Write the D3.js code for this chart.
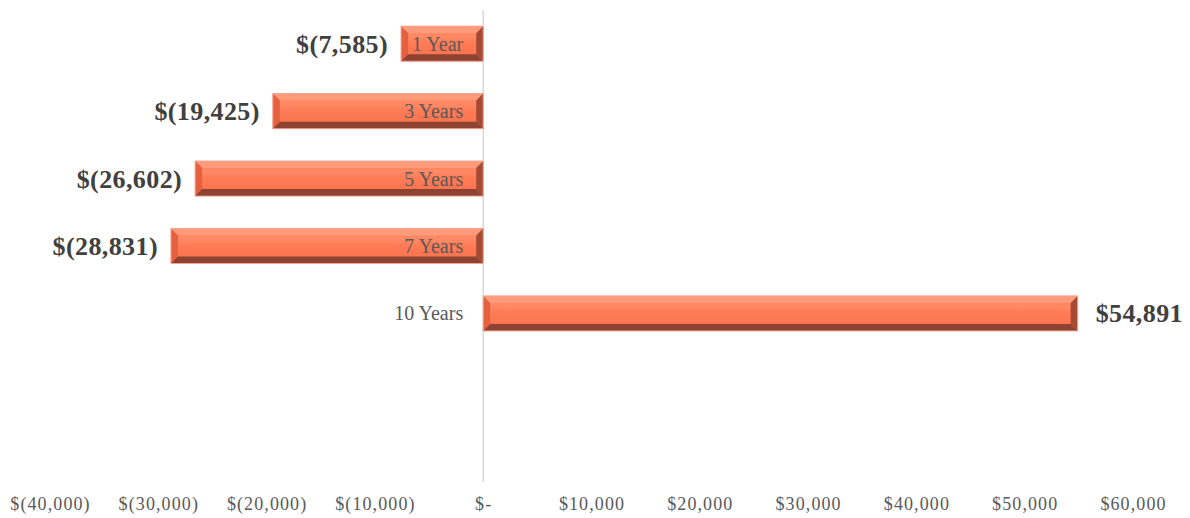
<!DOCTYPE html>
<html>
<head>
<meta charset="utf-8">
<script src="https://cdn.jsdelivr.net/npm/d3@7/dist/d3.min.js"></script>
<style>
  html, body { margin: 0; padding: 0; background: #fff; }
  svg { display: block; }
</style>
</head>
<body>
<svg id="chart" width="1190" height="518"></svg>
<script>
const categories = ["1 Year", "3 Years", "5 Years", "7 Years", "10 Years"];
const values = [-7585, -19425, -26602, -28831, 54891];
const valueLabels = ["$(7,585)", "$(19,425)", "$(26,602)", "$(28,831)", "$54,891"];
const tickValues = [-40000, -30000, -20000, -10000, 0, 10000, 20000, 30000, 40000, 50000, 60000];
const tickLabels = ["$(40,000)", "$(30,000)", "$(20,000)", "$(10,000)", "$-", "$10,000", "$20,000", "$30,000", "$40,000", "$50,000", "$60,000"];

const svg = d3.select("#chart");
const plotTop = 10, plotBottom = 482, slots = 7;
const slotH = (plotBottom - plotTop) / slots;

const x = d3.scaleLinear().domain([-40000, 60000]).range([50, 1133]);
const y = d3.scaleBand().domain(categories)
  .range([plotTop, plotTop + slotH * categories.length])
  .paddingInner(0.48).paddingOuter(0.24);

const defs = svg.append("defs");
const g1 = defs.append("linearGradient").attr("id", "face").attr("x1", 0).attr("y1", 0).attr("x2", 0).attr("y2", 1);
g1.append("stop").attr("offset", "0%").attr("stop-color", "#ff7c57");
g1.append("stop").attr("offset", "30%").attr("stop-color", "#ff8a66");
g1.append("stop").attr("offset", "45%").attr("stop-color", "#ff7d58");
g1.append("stop").attr("offset", "100%").attr("stop-color", "#f86f4b");

// zero line
svg.append("line")
  .attr("x1", x(0)).attr("x2", x(0))
  .attr("y1", plotTop).attr("y2", plotBottom)
  .attr("stroke", "#d9d9d9").attr("stroke-width", 1.5);

const b = 7;
const bars = svg.append("g").selectAll("g").data(categories).enter().append("g");
bars.each(function(c, i) {
  const gg = d3.select(this);
  const x0 = Math.min(x(0), x(values[i])), x1 = Math.max(x(0), x(values[i]));
  const y0 = y(c), y1 = y(c) + y.bandwidth();
  gg.append("rect").attr("x", x0).attr("y", y0).attr("width", x1 - x0).attr("height", y1 - y0)
    .attr("fill", "url(#face)");
  const poly = (pts, col) => gg.append("polygon").attr("points", pts.map(p => p.join(",")).join(" ")).attr("fill", col);
  poly([[x0, y0], [x1, y0], [x1 - b, y0 + b], [x0 + b, y0 + b]], "#ff9a7b");
  poly([[x0, y0], [x0 + b, y0 + b], [x0 + b, y1 - b], [x0, y1]], "#e4603f");
  poly([[x0, y1], [x0 + b, y1 - b], [x1 - b, y1 - b], [x1, y1]], "#8e4232");
  poly([[x1, y0], [x1, y1], [x1 - b, y1 - b], [x1 - b, y0 + b]], "#a44a35");
  gg.append("rect").attr("x", x0).attr("y", y0).attr("width", x1 - x0).attr("height", y1 - y0)
    .attr("fill", "none").attr("stroke", "#f4a592").attr("stroke-width", 1);
});

// category labels
svg.append("g").selectAll("text").data(categories).enter().append("text")
  .attr("x", x(0) - 20)
  .attr("y", c => y(c) + y.bandwidth() / 2 + 7)
  .attr("text-anchor", "end")
  .attr("font-family", "Liberation Serif, serif")
  .attr("font-size", 20)
  .attr("fill", "#595959")
  .text(c => c);

// value labels
svg.append("g").selectAll("text").data(categories).enter().append("text")
  .attr("x", (c, i) => values[i] < 0 ? x(values[i]) - 13 : x(values[i]) + 18)
  .attr("y", c => y(c) + y.bandwidth() / 2 + 9)
  .attr("text-anchor", (c, i) => values[i] < 0 ? "end" : "start")
  .attr("font-family", "Liberation Serif, serif")
  .attr("font-weight", "bold")
  .attr("font-size", 26)
  .attr("letter-spacing", 0.4)
  .attr("fill", "#404040")
  .text((c, i) => valueLabels[i]);

// x axis labels
const axis = d3.axisBottom(x).tickValues(tickValues).tickSize(0)
  .tickFormat((d, i) => tickLabels[i]);
const ax = svg.append("g").attr("transform", "translate(0,494)").call(axis);
ax.select(".domain").remove();
ax.selectAll("text")
  .attr("font-family", "Liberation Serif, serif")
  .attr("font-size", 18)
  .attr("letter-spacing", 1.1)
  .attr("fill", "#595959");
</script>
</body>
</html>
